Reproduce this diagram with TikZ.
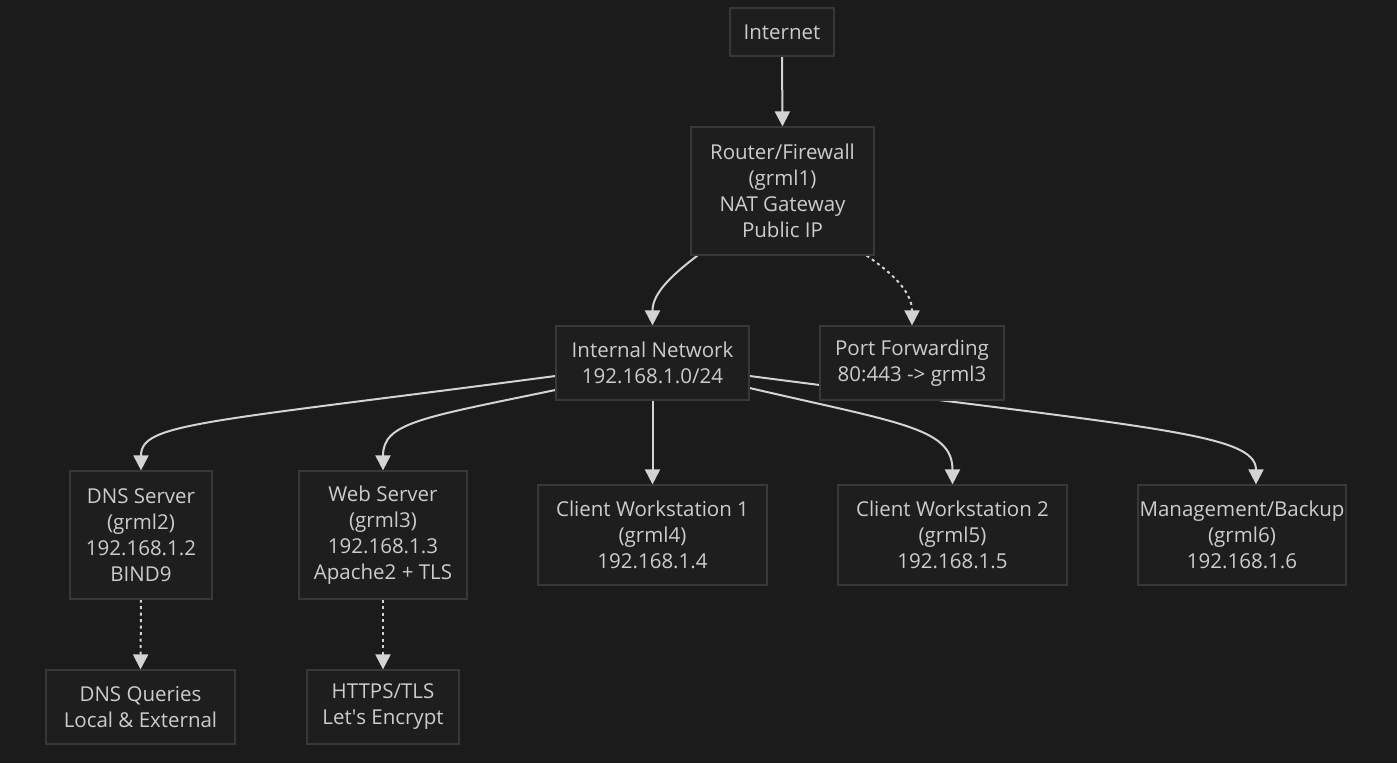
\documentclass[tikz,border=0pt]{standalone}
\usepackage{fontspec}
\setmainfont{Open Sans}
\usetikzlibrary{arrows.meta,calc}
\definecolor{bgc}{HTML}{1B1B1B}
\definecolor{boxfill}{HTML}{1E1E1E}
\definecolor{boxline}{HTML}{383838}
\definecolor{txt}{HTML}{CCCCCC}
\definecolor{edgec}{HTML}{D3D3D3}
\pgfdeclarelayer{back}
\pgfdeclarelayer{bg}
\pgfsetlayers{back,bg,main}
\tikzset{
  box/.style={draw=boxline, fill=boxfill, line width=1.2pt, text=txt, align=center, inner sep=0pt,
    font=\fontsize{20.5}{26}\selectfont},
  conn/.style={draw=edgec, line width=2pt, -{Triangle[length=15pt,width=15pt]}},
  dotconn/.style={conn, dash pattern=on 3pt off 3.5pt},
}
\begin{document}
\begin{tikzpicture}[x=1pt,y=1pt]
\begin{pgfonlayer}{back}
\fill[bgc] (0,0) rectangle (1397,763);
\end{pgfonlayer}
\useasboundingbox (0,0) rectangle (1397,763);
\node[box, minimum width=104, minimum height=48] (inet) at (782,731) {Internet};
\node[box, minimum width=183, minimum height=128] (router) at (782.5,572) {Router/Firewall\\(grml1)\\NAT Gateway\\Public IP};
\node[box, minimum width=193, minimum height=74] (int) at (652.5,400) {Internal Network\\192.168.1.0/24};
\node[box, minimum width=184, minimum height=74] (pf) at (912,400) {Port Forwarding\\80:443 -> grml3};
\node[box, minimum width=142, minimum height=128] (dns) at (141,228) {DNS Server\\(grml2)\\192.168.1.2\\BIND9};
\node[box, minimum width=168, minimum height=128] (web) at (383,228) {Web Server\\(grml3)\\192.168.1.3\\Apache2 + TLS};
\node[box, minimum width=229, minimum height=100] (cw1) at (652.5,228) {Client Workstation 1\\(grml4)\\192.168.1.4};
\node[box, minimum width=229, minimum height=100] (cw2) at (952.5,228) {Client Workstation 2\\(grml5)\\192.168.1.5};
\node[box, minimum width=208, minimum height=100] (mgmt) at (1242,228) {Management/Backup\\(grml6)\\192.168.1.6};
\node[box, minimum width=189, minimum height=74] (dq) at (140.5,56) {DNS Queries\\Local \& External};
\node[box, minimum width=152, minimum height=74] (https) at (383,56) {HTTPS/TLS\\Let\textquotesingle s Encrypt};
\begin{pgfonlayer}{bg}
\draw[conn] (inet.south) -- (router.north);
\draw[conn] ($(router.south west)+(7,0)$) .. controls (672,488) and (652.5,470) .. (int.north);
\draw[dotconn] ($(router.south east)+(-8,0)$) .. controls (895,488) and (912,470) .. (pf.north);
\draw[conn] ($(int.west)+(0,-13)$) .. controls (200,340) and (141,340) .. (dns.north);
\draw[conn] ($(int.west)+(0,-27)$) .. controls (420,345) and (383,340) .. (web.north);
\draw[conn] (int.south) -- (cw1.north);
\draw[conn] ($(int.east)+(0,-25)$) .. controls (900,340) and (952.5,335) .. (cw2.north);
\draw[conn] ($(int.east)+(0,-13)$) .. controls (1150,335) and (1256,330) .. ($(mgmt.north)+(14,0)$);
\draw[dotconn] (dns.south) -- (dq.north);
\draw[dotconn] (web.south) -- (https.north);
\end{pgfonlayer}
\end{tikzpicture}
\end{document}
